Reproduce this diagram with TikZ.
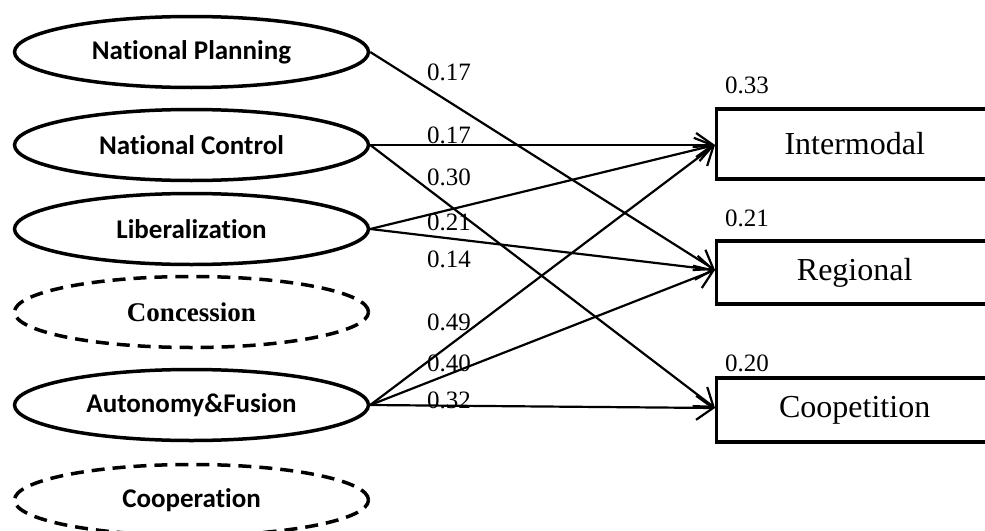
\documentclass[tikz,border=0pt]{standalone}
\usepackage{fontspec}
\setmainfont{Liberation Serif}
\newfontfamily\calfont[Ligatures=NoCommon]{Carlito}
\usetikzlibrary{arrows.meta,shapes.geometric}
\begin{document}
\begin{tikzpicture}[x=1pt,y=-1pt,
  lat/.style={ellipse,draw,line width=3.5pt,minimum width=354pt,minimum height=71pt,inner sep=0pt,
    font=\calfont\bfseries\fontsize{27}{32}\selectfont},
  latd/.style={lat,dash pattern=on 13pt off 8pt},
  obs/.style={draw,line width=3.4pt,minimum width=300pt,inner sep=0pt,anchor=west,
    font=\fontsize{32}{38}\selectfont},
  num/.style={inner sep=0pt,font=\fontsize{25}{30}\selectfont},
  arr/.style={line width=2.2pt,-{Straight Barb[length=17pt,width=24pt,line width=2.2pt]}}
]
\useasboundingbox (0,0) rectangle (985,530);
\begin{scope}
\clip (0,0) rectangle (985,530);
\node[lat] (np) at (191.5,52) {National Planning};
\node[lat] (nc) at (191.5,145) {National Control};
\node[lat] (lib) at (191.5,229) {Liberalization};
\node[latd,font=\bfseries\fontsize{27}{32}\selectfont] (con) at (191.5,312) {Concession};
\node[lat] (af) at (191.5,405) {Autonomy\&Fusion};
\node[latd] (coop) at (191.5,500) {Cooperation};

\node[obs,minimum height=70pt] (im) at (715,144) {\makebox[276pt]{Intermodal}\hspace*{24pt}};
\node[obs,minimum height=63pt] (rg) at (715,272.5) {\makebox[276pt]{Regional}\hspace*{24pt}};
\node[obs,minimum height=64pt] (cp) at (715,410) {\makebox[276pt]{Coopetition}\hspace*{24pt}};

\node[num,anchor=west] (rim) at (725,85) {0.33};
\node[num,anchor=west] (rrg) at (725,218) {0.21};
\node[num,anchor=west] (rcp) at (725,363) {0.20};

\coordinate (imin) at (715,145);
\coordinate (rgin) at (715,270);
\coordinate (cpin) at (715,408);

\draw[arr] (np.east) -- (rgin);
\draw[arr] (nc.east) -- (imin);
\draw[arr] (nc.east) -- (cpin);
\draw[arr] (lib.east) -- (imin);
\draw[arr] (lib.east) -- (rgin);
\draw[arr] (af.east) -- (imin);
\draw[arr] (af.east) -- (rgin);
\draw[arr] (af.east) -- (cpin);

\node[num] (l1) at (449,72) {0.17};
\node[num] (l2) at (449,135) {0.17};
\node[num] (l3) at (449,177) {0.30};
\node[num] (l4) at (449,222) {0.21};
\node[num] (l5) at (449,259) {0.14};
\node[num] (l6) at (449,322) {0.49};
\node[num] (l7) at (449,363) {0.40};
\node[num] (l8) at (449,400) {0.32};
\end{scope}
\end{tikzpicture}
\end{document}
